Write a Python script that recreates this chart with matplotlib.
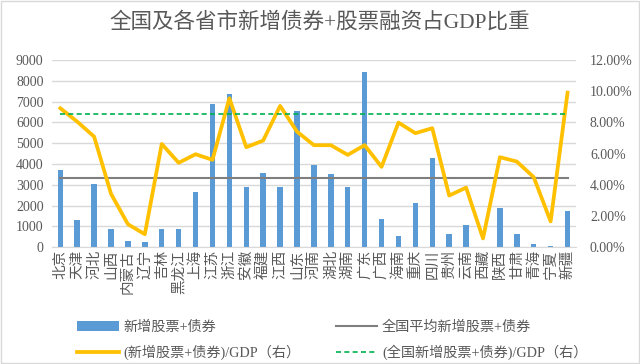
import numpy as np
import matplotlib
matplotlib.use("Agg")
import matplotlib.pyplot as plt

plt.rcParams['font.family'] = ['Liberation Serif', 'Noto Sans CJK SC']

# data
provinces = ["北京", "天津", "河北", "山西", "内蒙古", "辽宁", "吉林", "黑龙江", "上海", "江苏",
             "浙江", "安徽", "福建", "江西", "山东", "河南", "湖北", "湖南", "广东", "广西",
             "海南", "重庆", "四川", "贵州", "云南", "西藏", "陕西", "甘肃", "青海", "宁夏", "新疆"]
financing = [3700, 1300, 3030, 850, 320, 230, 850, 850, 2630, 6890,
             7390, 2890, 3590, 2890, 6540, 3970, 3530, 2890, 8410, 1350,
             530, 2130, 4300, 640, 1070, 15, 1890, 610, 140, 60, 1750]
ratio_pct = [8.91, 8.05, 7.09, 3.42, 1.47, 0.83, 6.62, 5.41, 5.96, 5.60,
             9.55, 6.41, 6.84, 9.06, 7.41, 6.54, 6.54, 5.92, 6.54, 5.15,
             7.99, 7.31, 7.63, 3.31, 3.82, 0.56, 5.77, 5.49, 4.49, 1.65, 9.91]
national_avg = 3350
national_ratio = 8.55

x = np.arange(len(provinces))

fig = plt.figure(figsize=(6.4, 3.64), dpi=100)
ax = fig.add_axes([0.081, 0.321, 0.819, 0.514])
ax2 = ax.twinx()

bars = ax.bar(x, financing, width=0.32, color="#5B9BD5", zorder=2, label="新增股票+债券")
avg_line, = ax.plot(x, [national_avg] * len(x), color="#7F7F7F", lw=1.5, zorder=3,
                    label="全国平均新增股票+债券")
ratio_line, = ax2.plot(x, ratio_pct, color="#FFC000", lw=2.7, zorder=4,
                       label="(新增股票+债券)/GDP（右）")
nat_line, = ax2.plot(x, [national_ratio] * len(x), color="#00B050", lw=1.2, ls=(0, (3, 2)),
                     zorder=4, label="(全国新增股票+债券)/GDP（右）")

ax.set_xlim(-0.5, len(x) - 0.5)
ax.set_ylim(0, 9000)
ax.set_yticks(np.arange(0, 9001, 1000))
ax.grid(axis="y", color="#D9D9D9", lw=1, zorder=0)
ax.set_axisbelow(True)
ax2.set_ylim(0, 12)
ax2.set_yticks(np.arange(0, 12.1, 2))
ax2.set_yticklabels([f"{v:.2f}%" for v in np.arange(0, 12.1, 2)])

ax.set_xticks(x)
ax.set_xticklabels(provinces, rotation=90, fontsize=10.5, color="#595959",
                   family=['Noto Sans CJK SC'])
for a in (ax, ax2):
    a.tick_params(length=0, labelsize=10, colors="#595959")
    for s in a.spines.values():
        s.set_visible(False)
ax.spines["bottom"].set_visible(True)
ax.spines["bottom"].set_color("#D9D9D9")
ax.tick_params(axis="x", pad=2, labelsize=10.5)
ax.tick_params(axis="y", pad=6)
ax2.tick_params(axis="y", pad=10)

fig.text(0.5, 0.94, "全国及各省市新增债券+股票融资占GDP比重", ha="center", va="center",
         fontsize=15.5, color="#595959")

fig.legend(handles=[bars, ratio_line, avg_line, nat_line], ncol=2,
           loc="upper left", bbox_to_anchor=(0.11, 0.14), frameon=False, borderpad=0,
           fontsize=10.2, labelcolor="#595959", handlelength=2.9,
           columnspacing=2.5, labelspacing=0.8, handletextpad=0.35)

fig.patches.append(plt.Rectangle((0.002, 0.003), 0.996, 0.994, transform=fig.transFigure,
                                 fill=False, edgecolor="#D9D9D9", lw=1))

fig.savefig("out.png", dpi=100)
